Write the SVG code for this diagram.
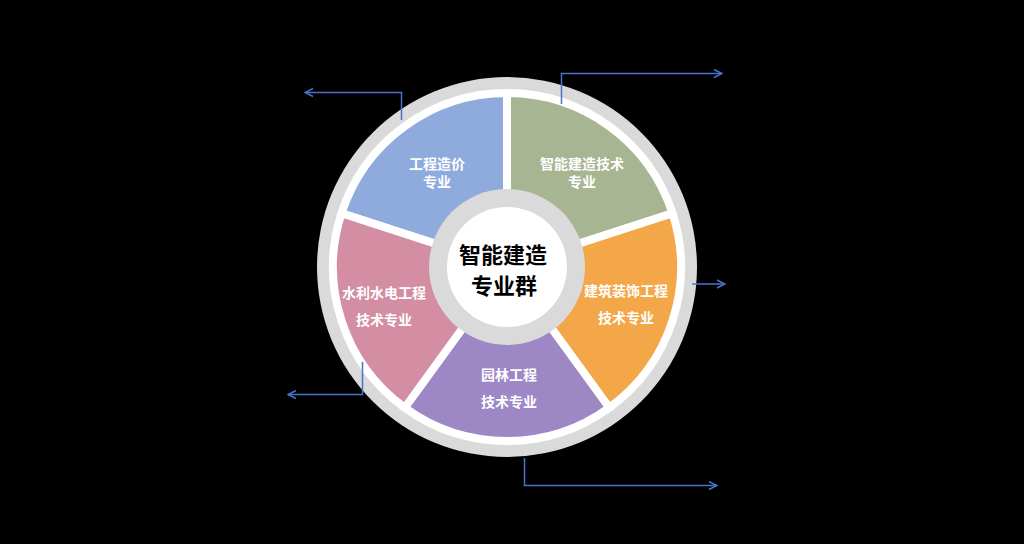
<svg xmlns="http://www.w3.org/2000/svg" width="1024" height="544" viewBox="0 0 1024 544">
<defs>
<marker id="arr" viewBox="0 0 10 10" refX="9" refY="5" markerWidth="10" markerHeight="10" markerUnits="userSpaceOnUse" orient="auto">
<polyline points="1,1 9,5 1,9" fill="none" stroke="#4A74C9" stroke-width="1.5"/>
</marker>
<style>
.seg{stroke:#FFFFFF;stroke-width:8;stroke-linejoin:miter}
.lbl{font-family:"Noto Sans CJK SC","Noto Sans",sans-serif;font-weight:bold;font-size:14px;fill:#FFFFFF;text-anchor:middle;dominant-baseline:central}
.title{font-family:"Noto Sans CJK SC","Noto Sans",sans-serif;font-weight:bold;font-size:22px;fill:#000000;text-anchor:middle;dominant-baseline:central}
.conn{fill:none;stroke:#4A74C9;stroke-width:1.5;marker-end:url(#arr)}
</style>
</defs>
<rect x="0" y="0" width="1024" height="544" fill="#000000"/>
<g id="ring">
<circle cx="507" cy="267" r="190" fill="#DADADA"/>
<circle cx="507" cy="267" r="175" fill="#FFFFFF"/>
</g>
<g id="node-gczj">
<path class="seg" fill="#8FAADC" d="M507 267 L341.52 213.23 A174 174 0 0 1 507 93 Z"/>
<text class="lbl" x="437" y="163">工程造价</text>
<text class="lbl" x="437" y="181">专业</text>
</g>
<g id="node-znjz">
<path class="seg" fill="#A8B592" d="M507 267 L507 93 A174 174 0 0 1 672.48 213.23 Z"/>
<text class="lbl" x="582" y="163">智能建造技术</text>
<text class="lbl" x="582" y="181">专业</text>
</g>
<g id="node-jzzs">
<path class="seg" fill="#F4A748" d="M507 267 L672.48 213.23 A174 174 0 0 1 609.27 407.77 Z"/>
<text class="lbl" x="626" y="290">建筑装饰工程</text>
<text class="lbl" x="626" y="317">技术专业</text>
</g>
<g id="node-ylgc">
<path class="seg" fill="#9D87C5" d="M507 267 L609.27 407.77 A174 174 0 0 1 404.73 407.77 Z"/>
<text class="lbl" x="509" y="374">园林工程</text>
<text class="lbl" x="509" y="401">技术专业</text>
</g>
<g id="node-slsd">
<path class="seg" fill="#D38EA3" d="M507 267 L404.73 407.77 A174 174 0 0 1 341.52 213.23 Z"/>
<text class="lbl" x="384" y="292">水利水电工程</text>
<text class="lbl" x="384" y="319">技术专业</text>
</g>
<g id="node-center">
<circle cx="507" cy="267" r="78" fill="#DADADA"/>
<circle cx="507" cy="267" r="60" fill="#FFFFFF"/>
<text class="title" x="503" y="253">智能建造</text>
<text class="title" x="504" y="284">专业群</text>
</g>
<g id="connectors">
<polyline class="conn" points="401.5,120 401.5,92.5 305,92.5"/>
<polyline class="conn" points="561.5,104 561.5,73.5 722,73.5"/>
<polyline class="conn" points="692,284 725,284"/>
<polyline class="conn" points="524.5,458 524.5,485.5 717,485.5"/>
<polyline class="conn" points="362.5,362 362.5,394.5 288,394.5"/>
</g>
</svg>
